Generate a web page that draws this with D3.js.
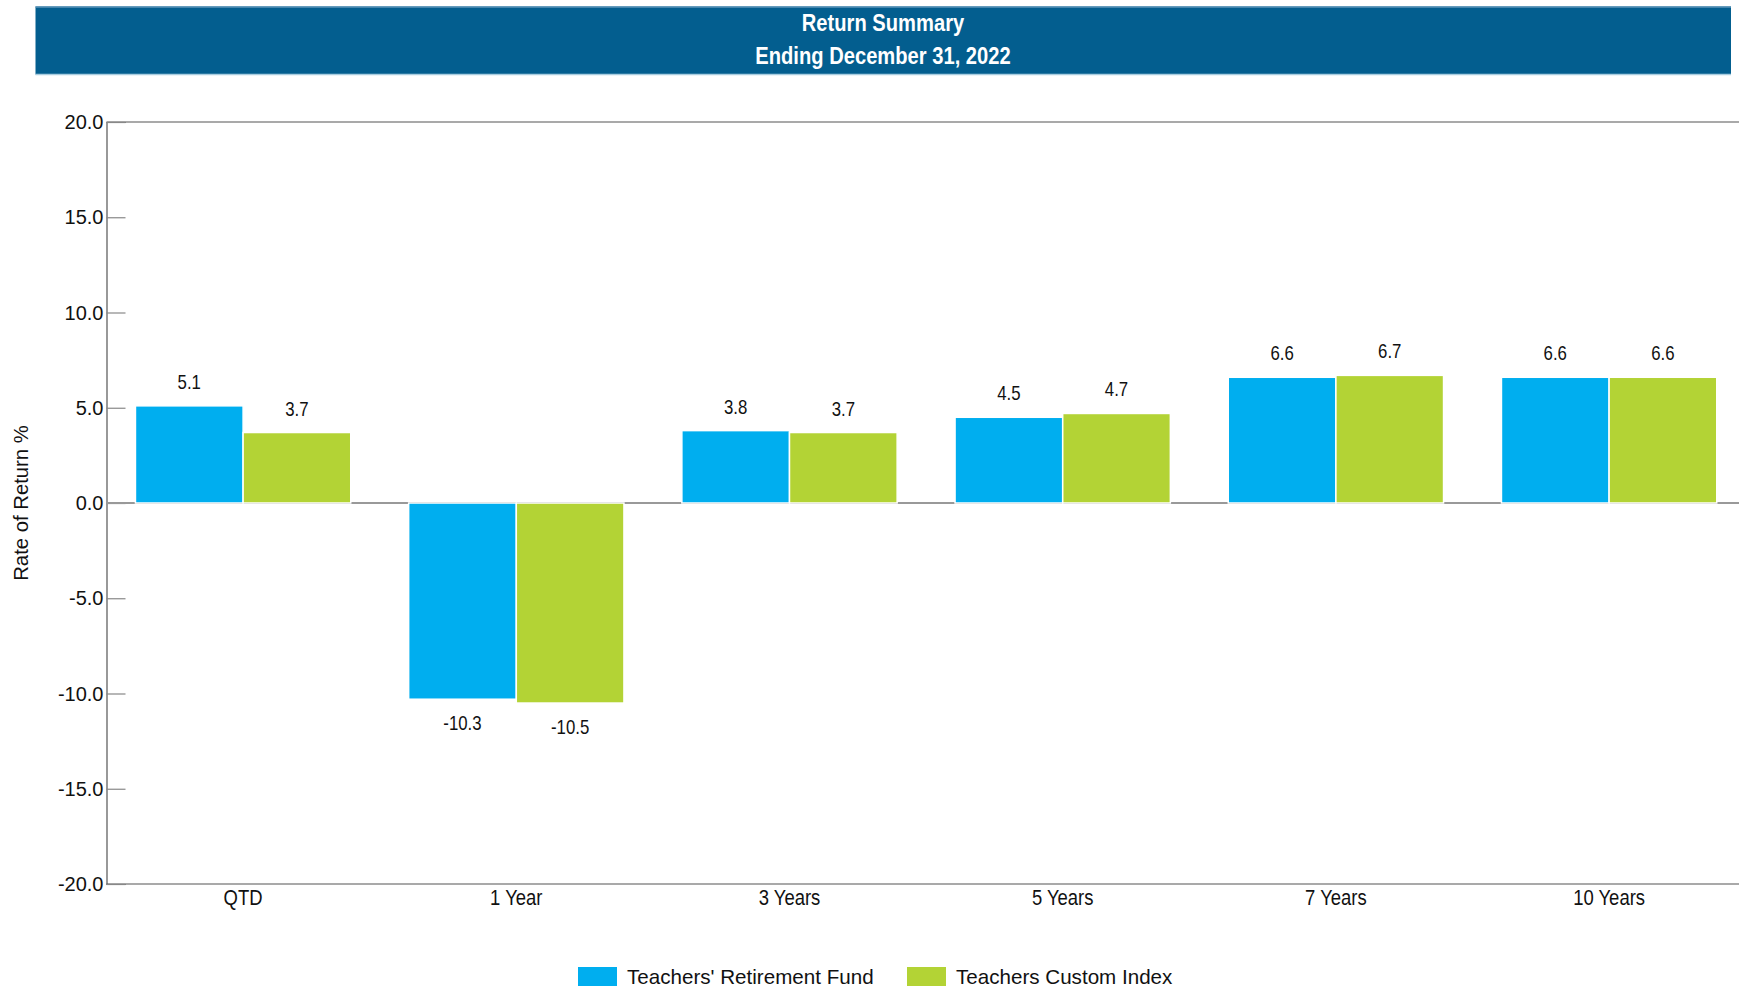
<!DOCTYPE html>
<html>
<head>
<meta charset="utf-8">
<script src="https://cdn.jsdelivr.net/npm/d3@7"></script>
<style>
  body { margin: 0; background: #fff; }
  svg { display: block; }
  text { font-family: "Liberation Sans", Arial, sans-serif; }
</style>
</head>
<body>
<div id="chart"></div>
<script>
const width = 1739, height = 988;

const categories = ["QTD", "1 Year", "3 Years", "5 Years", "7 Years", "10 Years"];
const seriesNames = ["Teachers' Retirement Fund", "Teachers Custom Index"];
const fundValues = [5.1, -10.3, 3.8, 4.5, 6.6, 6.6];
const indexValues = [3.7, -10.5, 3.7, 4.7, 6.7, 6.6];
const yTicks = [20, 15, 10, 5, 0, -5, -10, -15, -20];
const colors = ["#00aeef", "#b3d335"];

const margin = { top: 122, left: 106.5, bottom: 884 };
const narrow = 0.84; // squeeze to look like Arial Narrow
const fmt = v => d3.format(".1f")(v).replace("\u2212", "-");

const svg = d3.select("#chart").append("svg")
  .attr("width", width)
  .attr("height", height);

// header band
svg.append("rect")
  .attr("x", 35.5).attr("y", 6.5).attr("width", 1695.5).attr("height", 68)
  .attr("fill", "#035e8f");
svg.append("line").attr("x1", 35.5).attr("x2", 1731).attr("y1", 7).attr("y2", 7)
  .attr("stroke", "#5d94b8").attr("stroke-width", 1.5);
svg.append("line").attr("x1", 35.5).attr("x2", 1731).attr("y1", 74.5).attr("y2", 74.5)
  .attr("stroke", "#a9cde0").attr("stroke-width", 1.5);
svg.append("g").selectAll("text")
  .data([["Return Summary", 31], ["Ending December 31, 2022", 64]])
  .join("text")
  .attr("transform", d => `translate(883,${d[1]}) scale(${narrow},1)`)
  .attr("text-anchor", "middle")
  .attr("fill", "#fff").attr("font-weight", "bold").attr("font-size", 24)
  .text(d => d[0]);

const step = 273.2;
const x0 = d3.scaleBand()
  .domain(categories)
  .range([margin.left, margin.left + step * categories.length])
  .paddingInner(0.212)
  .paddingOuter(0.106);

const x1 = d3.scaleBand()
  .domain([0, 1])
  .range([0, x0.bandwidth()]);

const y = d3.scaleLinear()
  .domain([-20, 20])
  .range([margin.bottom, margin.top]);

// frame lines
svg.append("line").attr("x1", margin.left).attr("x2", width)
  .attr("y1", y(20)).attr("y2", y(20)).attr("stroke", "#555").attr("stroke-width", 1.2);
svg.append("line").attr("x1", margin.left).attr("x2", width)
  .attr("y1", y(-20)).attr("y2", y(-20)).attr("stroke", "#555").attr("stroke-width", 1.2);

// y axis
const yAxis = svg.append("g")
  .attr("transform", `translate(${margin.left},0)`)
  .call(d3.axisRight(y).tickValues(yTicks).tickSize(19).tickFormat(""));
yAxis.select(".domain").attr("stroke", "#555").attr("stroke-width", 1.2);
yAxis.selectAll(".tick line").attr("stroke", "#888").attr("stroke-width", 1.2);

svg.append("g").selectAll("text")
  .data(yTicks)
  .join("text")
  .attr("x", margin.left - 3)
  .attr("y", d => y(d))
  .attr("dy", "0.35em")
  .attr("text-anchor", "end")
  .attr("font-size", 20)
  .attr("fill", "#111")
  .text(fmt);

// zero line
svg.append("line").attr("x1", margin.left).attr("x2", width)
  .attr("y1", y(0)).attr("y2", y(0)).attr("stroke", "#999").attr("stroke-width", 2);

// bars
const rows = categories.map((c, i) => ({ cat: c, vals: [fundValues[i], indexValues[i]] }));

const groups = svg.append("g").selectAll("g")
  .data(rows)
  .join("g")
  .attr("transform", d => `translate(${x0(d.cat)},0)`);

groups.selectAll("rect")
  .data(d => d.vals.map((v, j) => ({ v, j })))
  .join("rect")
  .attr("x", d => x1(d.j))
  .attr("width", x1.bandwidth())
  .attr("y", d => y(Math.max(0, d.v)))
  .attr("height", d => Math.abs(y(d.v) - y(0)))
  .attr("fill", d => colors[d.j])
  .attr("stroke", "#fff")
  .attr("stroke-width", 1.5);

groups.selectAll("text")
  .data(d => d.vals.map((v, j) => ({ v, j })))
  .join("text")
  .attr("transform", d => {
    const tx = x1(d.j) + x1.bandwidth() / 2;
    const ty = d.v >= 0 ? y(d.v) - 17 : y(d.v) + 31;
    return `translate(${tx},${ty}) scale(${narrow},1)`;
  })
  .attr("text-anchor", "middle")
  .attr("font-size", 20)
  .attr("fill", "#111")
  .text(d => fmt(d.v));

// category labels
svg.append("g").selectAll("text")
  .data(categories)
  .join("text")
  .attr("transform", d => `translate(${x0(d) + x0.bandwidth() / 2},905) scale(${narrow},1)`)
  .attr("text-anchor", "middle")
  .attr("font-size", 22)
  .attr("fill", "#111")
  .text(d => d);

// y label
svg.append("text")
  .attr("transform", "translate(28,503) rotate(-90)")
  .attr("text-anchor", "middle")
  .attr("font-size", 20.3)
  .attr("fill", "#111")
  .text("Rate of Return %");

// legend
const legendX = [578, 907];
const legend = svg.append("g").selectAll("g")
  .data(seriesNames)
  .join("g")
  .attr("transform", (d, i) => `translate(${legendX[i]},967)`);
legend.append("rect")
  .attr("width", 39).attr("height", 19)
  .attr("fill", (d, i) => colors[i]);
legend.append("text")
  .attr("x", 49).attr("y", 17)
  .attr("font-size", 20.6)
  .attr("fill", "#111")
  .text(d => d);
</script>
</body>
</html>
